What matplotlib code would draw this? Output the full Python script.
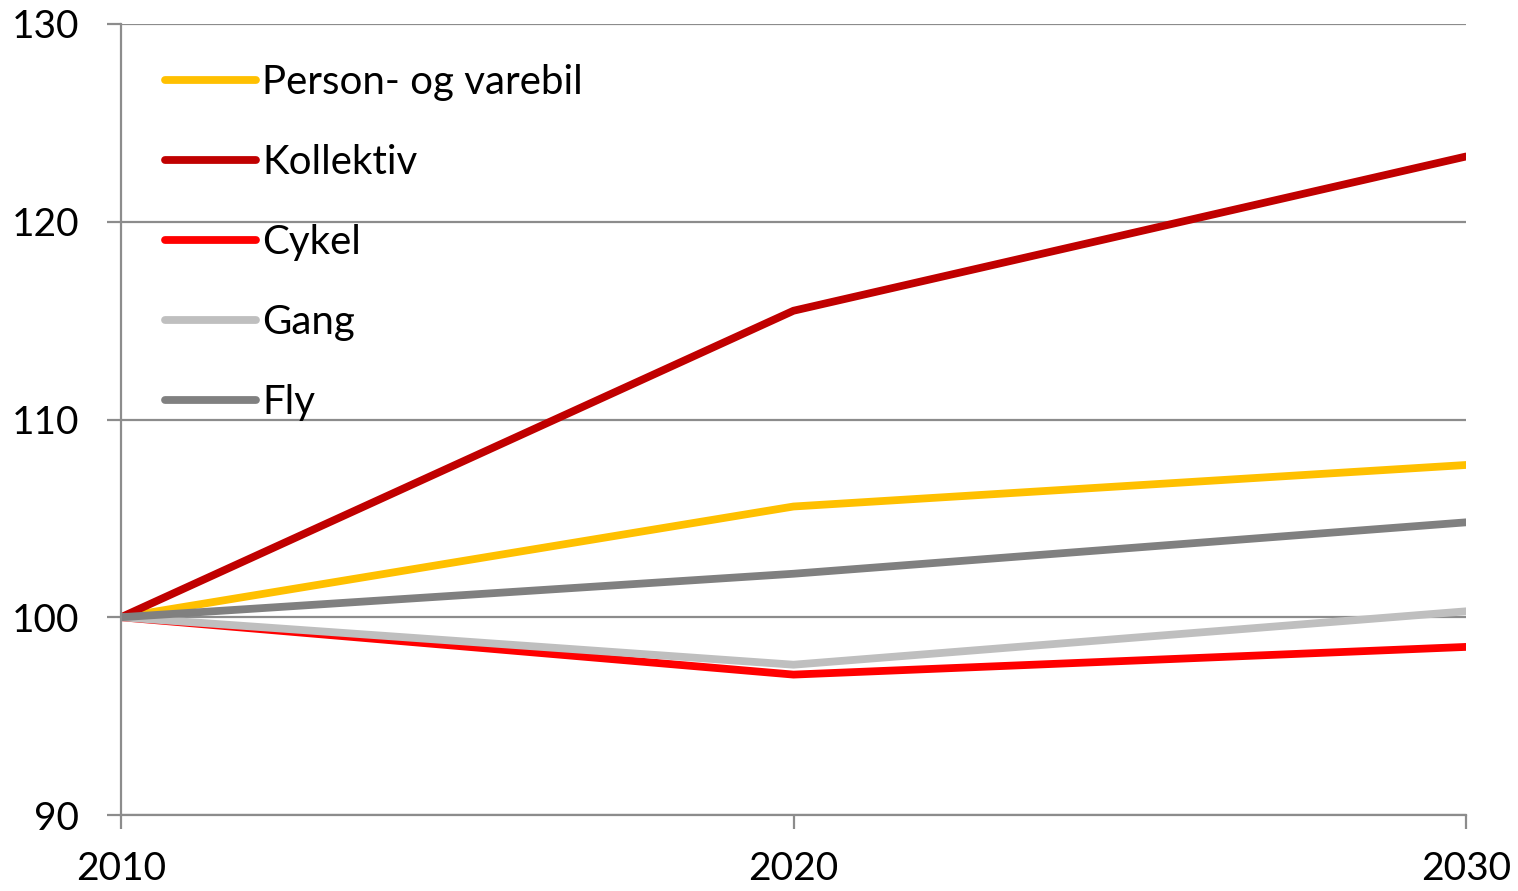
import numpy as np
import matplotlib
matplotlib.use('Agg')
from matplotlib import pyplot as plt

years = [2010, 2020, 2030]
labels = ['Person- og varebil', 'Kollektiv', 'Cykel', 'Gang', 'Fly']
person = [100, 105.6, 107.7]
kollektiv = [100, 115.5, 123.3]
cykel = [100, 97.1, 98.5]
gang = [100, 97.6, 100.3]
fly = [100, 102.2, 104.8]
colors = ['#FFC000', '#C00000', '#FF0000', '#BFBFBF', '#808080']

plt.rcParams['font.family'] = ['Lato', 'DejaVu Sans']

fig = plt.figure(figsize=(15.18, 8.91), dpi=100)
ax = fig.add_axes([121/1518, 76/891, (1466-121)/1518, (815-24)/891])

for vals, lab, c in zip([person, kollektiv, cykel, gang, fly], labels, colors):
    ax.plot(years, vals, color=c, lw=5.6, label=lab, solid_capstyle='round')

ax.set_xlim(2010, 2030)
ax.set_ylim(90, 130)
ax.set_xticks(years)
ax.set_yticks([90, 100, 110, 120, 130])
ax.yaxis.grid(True, color='#8C8C8C', lw=1.6)
ax.set_axisbelow(True)
for s in ['top', 'right']:
    ax.spines[s].set_visible(False)
for s in ['left', 'bottom']:
    ax.spines[s].set_color('#8C8C8C')
    ax.spines[s].set_linewidth(1.6)
ax.tick_params(axis='both', colors='#8C8C8C', width=1.6, length=10, labelsize=28, labelcolor='black')
ax.tick_params(axis='y', pad=20)
ax.tick_params(axis='x', pad=16)

leg = ax.legend(loc='upper left', bbox_to_anchor=(165/1518, 1 - 64/891), bbox_transform=fig.transFigure,
                frameon=False, fontsize=29, handlelength=2.25, handletextpad=0.17, labelspacing=1.07,
                borderpad=0, borderaxespad=0)
for h in leg.get_lines():
    h.set_linewidth(5.6)

fig.savefig('out.png', dpi=100)
